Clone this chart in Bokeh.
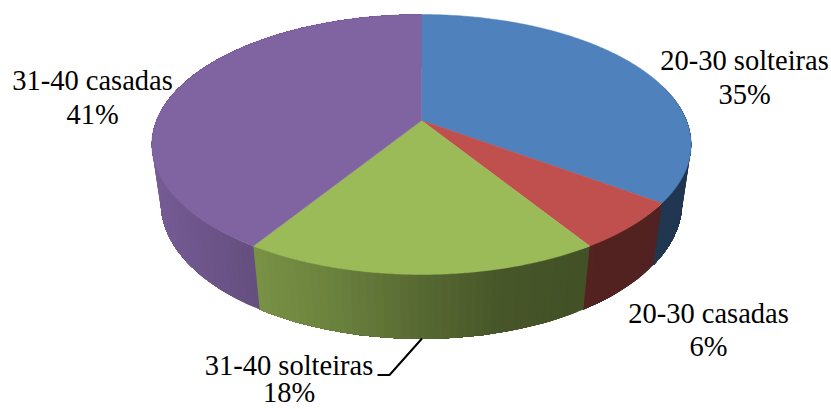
import numpy as np
from bokeh.core.properties import value
from bokeh.embed import file_html
from bokeh.models import ColumnDataSource, Range1d
from bokeh.plotting import figure
from bokeh.resources import INLINE

# Share of each group, in percent, clockwise from twelve o'clock
categories = ["20-30 solteiras", "20-30 casadas", "31-40 solteiras", "31-40 casadas"]
shares = [35, 6, 18, 41]
colors = ["#4f81bd", "#c0504d", "#9bbb59", "#8064a2"]

# Label anchors in page pixels: (centre x, first line middle y, second line middle y)
label_layout = [(744, 60, 94), (708, 313, 346), (288.5, 365, 392), (92, 80, 114)]
leader_x = [421.5, 389, 377]
leader_y = [338, 374.5, 374.5]

# Projection of the unit disc: top face at depth 0, bottom face at depth 1
CX, CY = 421.0, 120.0
AX, VY, VZ, PV, PZ = 265.0, -103.4, 63.7, 0.1846, 0.033


def project(theta, depth=0.0):
    u, v = np.sin(theta), np.cos(theta)
    d = 1 + PV * v + PZ * depth
    return CX + AX * u / d, (CY + VY * v + VZ * depth) / d


def shade(hex_color, factor):
    rgb = [int(hex_color[i:i + 2], 16) for i in (1, 3, 5)]
    return "#" + "".join(f"{int(round(c * factor)):02x}" for c in rgb)


def wall_brightness(x):
    return np.interp(x, [150, 254, 340, 421, 500, 590, 700],
                     [0.92, 0.78, 0.68, 0.56, 0.46, 0.43, 0.42])


edges = np.cumsum([0] + shares) / sum(shares) * 2 * np.pi

p = figure(width=831, height=409, output_backend="svg", toolbar_location=None,
           x_range=Range1d(0, 831), y_range=Range1d(409, 0),
           min_border=0, outline_line_color=None, background_fill_color="white")
p.axis.visible = False
p.grid.visible = False

# Side wall: overlapping narrow strips, each reaching to the end of its slice
# so that the later strip covers the antialiased edge of the one before it
wx, wy, wc = [], [], []
for start, stop, color in zip(edges[:-1], edges[1:], colors):
    angles = np.linspace(start, stop, max(3, int((stop - start) / np.radians(1.5))) + 1)
    for i, a0 in enumerate(angles[:-1]):
        if np.cos(a0) > 0.3:
            continue
        arc = angles[i:]
        xt, yt = project(arc)
        xb, yb = project(arc[::-1], 1.0)
        wx.append(list(xt) + list(xb))
        wy.append(list(yt) + list(yb))
        wc.append(shade(color, float(wall_brightness(xt[0] + (xt[1] - xt[0]) / 2))))
wall = ColumnDataSource(dict(xs=wx, ys=wy, color=wc))
p.patches("xs", "ys", source=wall, fill_color="color", line_color=None)

# Top face
tx, ty = [], []
for start, stop in zip(edges[:-1], edges[1:]):
    angles = np.linspace(start, stop, int((stop - start) / np.radians(0.5)) + 2)
    xs, ys = project(angles)
    tx.append([CX] + list(xs))
    ty.append([CY] + list(ys))
top = ColumnDataSource(dict(xs=tx, ys=ty, color=colors))
p.patches("xs", "ys", source=top, fill_color="color", line_color="color", line_width=0.5)

# Leader line for the label placed below the pie
p.line(leader_x, leader_y, line_color="black", line_width=2)

# Two-line labels: category, then its share
names_x, names_y, pct_x, pct_y, pct_text = [], [], [], [], []
for share, (lx, ly1, ly2) in zip(shares, label_layout):
    names_x.append(lx)
    names_y.append(ly1)
    pct_x.append(lx)
    pct_y.append(ly2)
    pct_text.append(f"{share}%")
for xs, ys, texts in ((names_x, names_y, categories), (pct_x, pct_y, pct_text)):
    p.text(xs, ys, text=texts, text_font=value("Liberation Serif"), text_font_size="28.5px",
           text_color="black", text_align="center", text_baseline="middle")

open("out.html", "w").write(file_html(p, INLINE))
